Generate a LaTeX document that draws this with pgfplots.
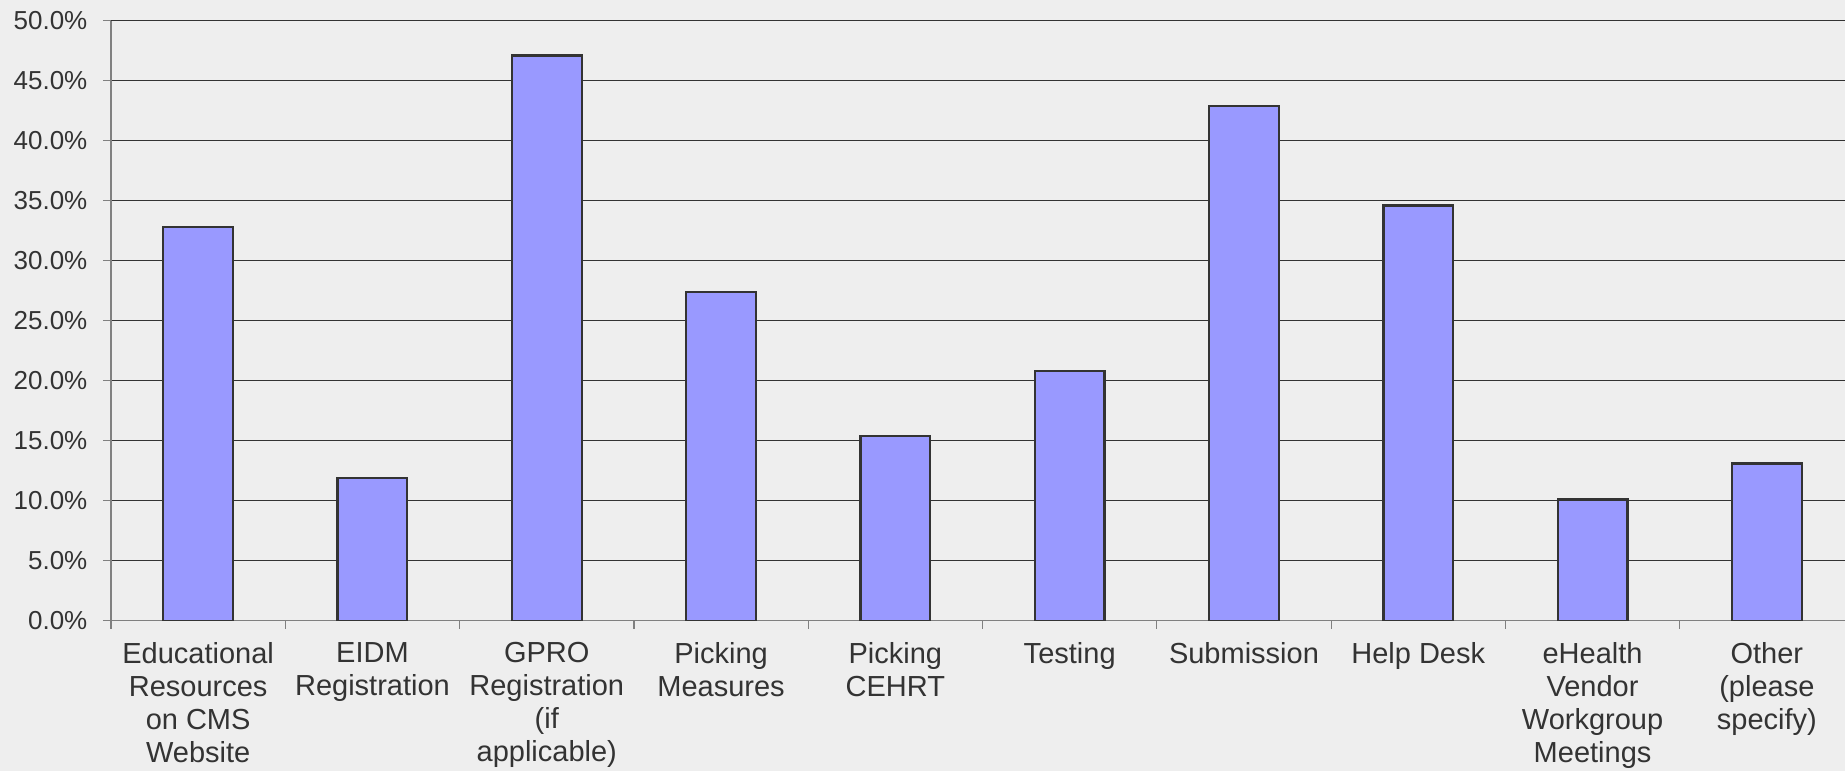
\documentclass[border=0pt]{standalone}
\usepackage{pgfplots}
\pgfplotsset{compat=1.18}
\usepackage{fontspec}
\setmainfont{Liberation Sans}
\definecolor{bg}{HTML}{EEEEEE}
\definecolor{barfill}{HTML}{9999FF}
\definecolor{edge}{HTML}{333333}
\definecolor{txt}{HTML}{333333}
\definecolor{axgray}{HTML}{808080}
\begin{document}
\begin{tikzpicture}
\fill[bg] (0,0) rectangle (922.5pt,385.5pt);
\begin{axis}[
  at={(55.5pt,75.15pt)}, anchor=south west,
  scale only axis, width=871.5pt, height=300pt,
  xmin=-0.5, xmax=9.5, ymin=0, ymax=50,
  ybar, bar width=0.4,
  axis lines*=left,
  axis line style={-, draw=axgray, line width=0.6pt},
  tick align=outside,
  xtick={0,...,9},
  xticklabels={{Educational\\Resources\\on CMS\\Website},{EIDM\\Registration},{GPRO\\Registration\\(if\\applicable)},{Picking\\Measures},{Picking\\CEHRT},{Testing},{Submission},{Help Desk},{eHealth\\Vendor\\Workgroup\\Meetings},{Other\\(please\\specify)}},
  major x tick style={draw=none},
  minor xtick={-0.5,0.5,...,9.5},
  minor x tick style={draw=axgray, line width=0.6pt},
  minor tick length=4pt, major tick length=4pt,
  ytick={0,5,...,50},
  y tick style={draw=axgray, line width=0.6pt},
  ymajorgrids, major grid style={draw=edge, line width=0.5pt},
  yticklabel={\pgfmathprintnumber[fixed,fixed zerofill,precision=1]{\tick}\%},
  /pgf/number format/assume math mode=true,
  tick label style={text=txt},
  xticklabel style={font=\fontsize{14.5}{16.5}\selectfont, align=center, anchor=north, yshift=-3.3pt},
  yticklabel style={font=\fontsize{13}{15}\selectfont, xshift=-4.3pt},
]
\addplot[fill=barfill, draw=edge, line width=1.1pt] coordinates {
(0,32.8) (1,11.9) (2,47.1) (3,27.4) (4,15.4) (5,20.8) (6,42.9) (7,34.6) (8,10.1) (9,13.1)};
\end{axis}
\pgfresetboundingbox
\useasboundingbox (0,0) rectangle (922.5pt,385.5pt);
\end{tikzpicture}
\end{document}
